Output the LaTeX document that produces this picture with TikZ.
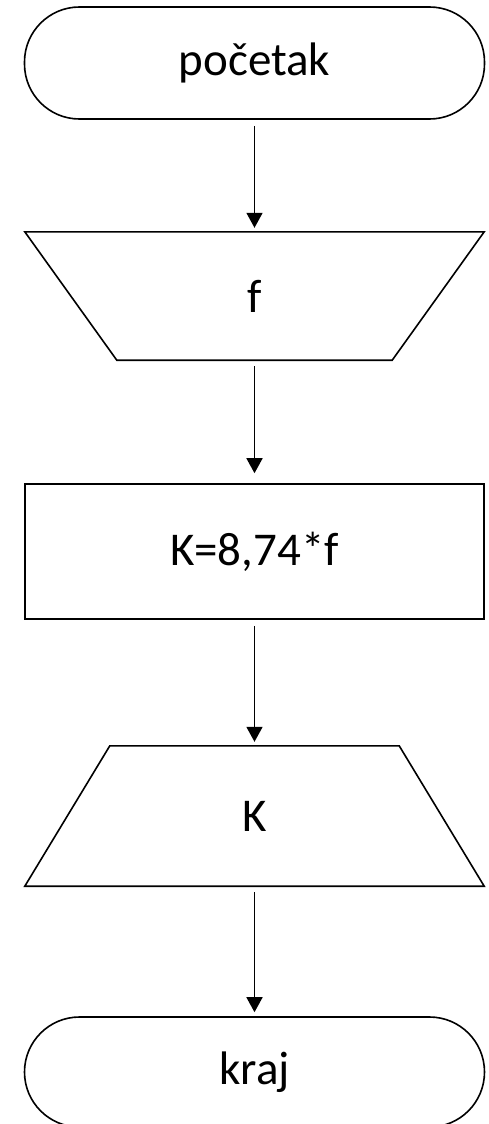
\documentclass[tikz,border=0pt]{standalone}
\usepackage{fontspec}
\setmainfont{Carlito}
\usetikzlibrary{shapes.geometric, arrows.meta, positioning}

\begin{document}
\begin{tikzpicture}[
            x=1pt, y=-1pt,
            every node/.style={inner sep=0pt, font=\fontsize{47}{56}\selectfont}, % Text of the shapes
            terminal/.style={draw, line width=1.6pt, rectangle, rounded corners=55pt, minimum width=460pt},
            inbox/.style={rectangle, minimum width=459pt}, % outline drawn afterwards
            process/.style={draw, line width=1.6pt, rectangle, minimum width=459pt, minimum height=135pt},
            outline/.style={line width=1.6pt, line join=miter},
            flow/.style={-{Triangle[length=15pt, width=16pt]}, line width=1.6pt, shorten <=6pt, shorten >=4pt}
            ]
        
                \useasboundingbox (0,0) rectangle (489,1124);
        
                % Start and input
                \node[terminal, minimum height=112pt] (start) at (254.5,63) {početak};
                \node[inbox, minimum height=128pt, below=112pt of start] (inF) {f};
                \draw[outline] (inF.north west) -- (inF.north east)
                    -- ([xshift=-92pt]inF.south east) -- ([xshift=92pt]inF.south west) -- cycle;
        
                % Calculation
                \node[process, below=123pt of inF] (calc) {K=8,74*f};
        
                % Output and end
                \node[inbox, minimum height=140pt, below=126pt of calc] (outK) {K};
                \draw[outline] ([xshift=85pt]outK.north west) -- ([xshift=-85pt]outK.north east)
                    -- (outK.south east) -- (outK.south west) -- cycle;
                \node[terminal, minimum height=110pt, below=130pt of outK] (end) {kraj};
        
                \draw[flow] (start) -- (inF);
                \draw[flow, shorten >=10pt] (inF) -- (calc);
                \draw[flow] (calc) -- (outK);
                \draw[flow] (outK) -- (end);
        
            \end{tikzpicture}
\end{document}
